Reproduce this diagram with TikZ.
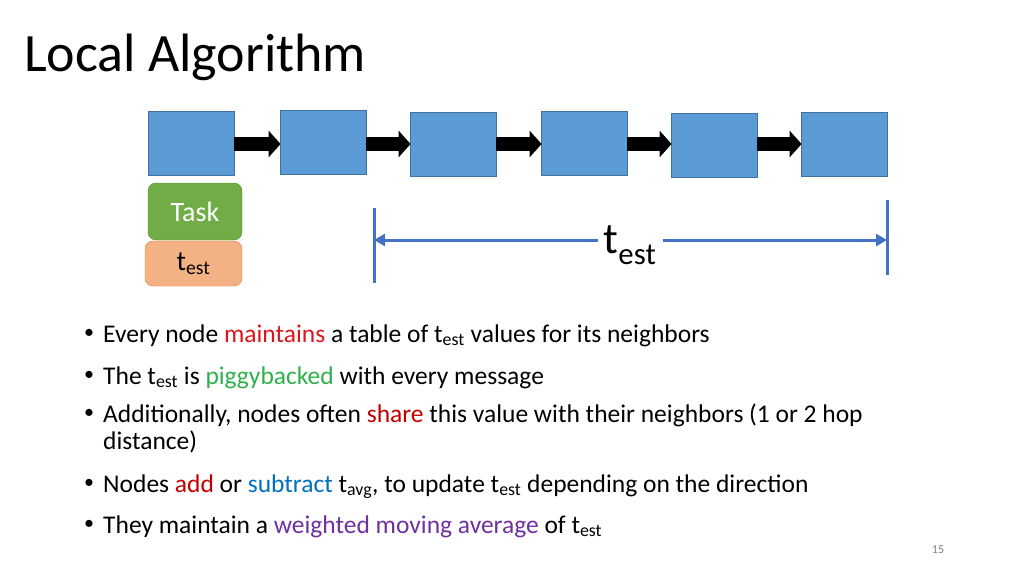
\documentclass[tikz,border=0pt]{standalone}
\usepackage{fontspec}
\setmainfont{Carlito}
\usetikzlibrary{arrows.meta,shapes.arrows}
\definecolor{boxb}{HTML}{5B9BD5}
\definecolor{boxbd}{HTML}{41719C}
\definecolor{lineb}{HTML}{4472C4}
\definecolor{tgreen}{HTML}{70AD47}
\definecolor{tsalmon}{HTML}{F4B183}
\definecolor{tor}{HTML}{ED7D31}
\definecolor{cred}{HTML}{E0131A}
\definecolor{cgreen}{HTML}{2EB04B}
\definecolor{cdred}{HTML}{C00000}
\definecolor{cblue}{HTML}{0070C0}
\definecolor{cpurp}{HTML}{7030A0}
\newcommand{\tsub}[1]{t\textsubscript{#1}}
\begin{document}
\begin{tikzpicture}[x=1pt,y=-1pt,
  blk/.style={draw=boxbd,fill=boxb,minimum width=86pt,minimum height=64pt,inner sep=0pt,line width=0.8pt},
  arr/.style={-{Triangle[length=12pt,width=26pt]},line width=14pt,black,shorten >=-1pt},
  meas/.style={lineb,line width=3pt},
  bul/.style={anchor=base west,font=\fontsize{25.5}{30}\selectfont,inner sep=0pt}]
\useasboundingbox (0,0) rectangle (1024,575);
\node[anchor=base west,font=\fontsize{54}{60}\selectfont,inner sep=0pt] (title) at (24,72) {Local Algorithm};
\foreach \i/\x/\y in {1/191/143,2/323/142,3/453/144,4/584/143,5/714/145,6/844/144}
  \node[blk] (b\i) at (\x,\y) {};
\foreach \a/\b in {1/2,2/3,3/4,4/5,5/6}
  \draw[arr] (b\a.east|-0,144) -- (b\b.west|-0,144);
\node[fill=tgreen,draw=tgreen!80!black,rounded corners=8pt,minimum width=94pt,minimum height=57pt,text=white,font=\fontsize{28}{32}\selectfont,inner sep=0pt] (task) at (195,211.5) {Task};
\node[fill=tsalmon,draw=tor,rounded corners=8pt,minimum width=97pt,minimum height=45pt,font=\fontsize{28}{32}\selectfont,inner sep=0pt] (test) at (193.5,263.5) {\tsub{est}};
\coordinate (l1) at (374,208); \coordinate (l2) at (374,283);
\coordinate (r1) at (887,200); \coordinate (r2) at (887,275);
\draw[meas] (l1) -- (l2);
\draw[meas] (r1) -- (r2);
\node[font=\fontsize{44}{48}\selectfont,inner sep=6pt] (lab) at (630,245) {\tsub{est}};
\coordinate (la) at (374,240); \coordinate (ra) at (887,240);
\draw[meas,-{Triangle[length=11pt,width=12pt]}] (lab.west|-la) -- (la);
\draw[meas,-{Triangle[length=11pt,width=12pt]}] (lab.east|-ra) -- (ra);
\foreach \y in {342,384,422,492,533}
  \node[font=\fontsize{20}{24}\selectfont,inner sep=0pt] at (89,\y-8) {•};
\node[bul] (t1) at (103,342) {Every node \textcolor{cred}{maintains} a table of \tsub{est} values for its neighbors};
\node[bul] (t2) at (103,384) {The \tsub{est} is \textcolor{cgreen}{piggybacked} with every message};
\node[bul] (t3) at (103,422) {Additionally, nodes often \textcolor{cdred}{share} this value with their neighbors (1 or 2 hop};
\node[bul] (t3b) at (103,449) {distance)};
\node[bul] (t4) at (103,492) {Nodes \textcolor{cdred}{add} or \textcolor{cblue}{subtract} \tsub{avg}, to update \tsub{est} depending on the direction};
\node[bul] (t5) at (103,533) {They maintain a \textcolor{cpurp}{weighted moving average} of \tsub{est}};
\node[anchor=base,font=\fontsize{12}{14}\selectfont,text=gray,inner sep=0pt] (pg) at (938,553) {15};
\end{tikzpicture}
\end{document}
